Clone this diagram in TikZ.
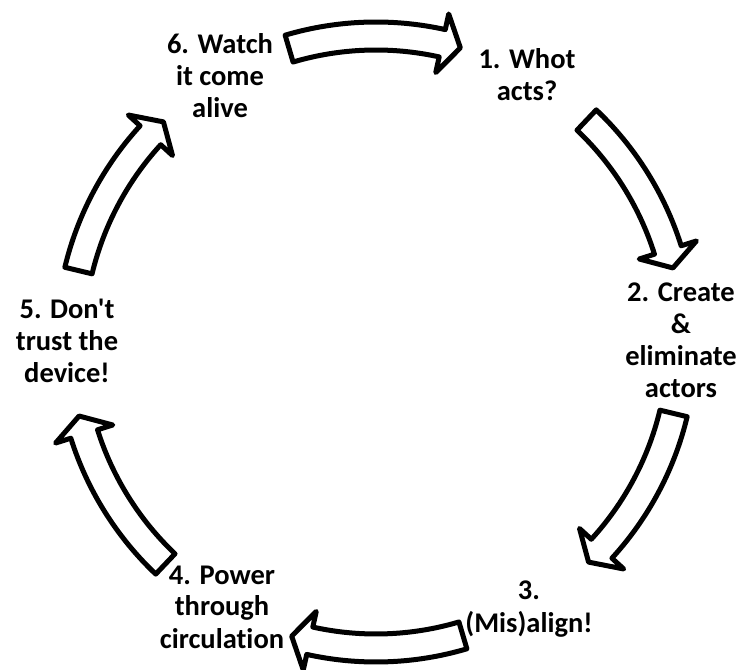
\documentclass[tikz,border=0pt]{standalone}
\usepackage{fontspec}
\setmainfont{Carlito}[Ligatures={TeXOff,NoCommon}]
\begin{document}
\begin{tikzpicture}[x=1pt,y=1pt,
  label/.style={font=\bfseries\fontsize{28.5}{32}\selectfont, align=center, inner sep=0pt, anchor=base},
  blockarrow/.style={draw=black, fill=white, line width=5pt, line join=round}]
  \useasboundingbox (0,0) rectangle (741,669);

  % curved block arrows around the cycle (clockwise)
  \begin{scope}[shift={(376,327)}]
    \foreach \p in {90,30,-30,-90,-150,150}{
      \draw[blockarrow]
        ({\p+16.5}:320) arc[start angle={\p+16.5}, end angle={\p-12.5}, radius=320]
        -- ({\p-12.5}:336) -- ({\p-16}:306) -- ({\p-12.5}:276) -- ({\p-12.5}:292)
        arc[start angle={\p-12.5}, end angle={\p+16.5}, radius=292] -- cycle;
    }
  \end{scope}

  % step labels (anchored at the baseline of the last line)
  \node[label] (s1) at (527,568) {1. Whot\\acts?};
  \node[label] (s2) at (681,271) {2. Create\\\&\\eliminate\\actors};
  \node[label] (s3) at (529,37) {3.\\(Mis)align!};
  \node[label] (s4) at (222,21) {4. Power\\through\\circulation};
  \node[label] (s5) at (67,286) {5. Don't\\trust the\\device!};
  \node[label] (s6) at (220,551) {6. Watch\\it come\\alive};
\end{tikzpicture}
\end{document}
